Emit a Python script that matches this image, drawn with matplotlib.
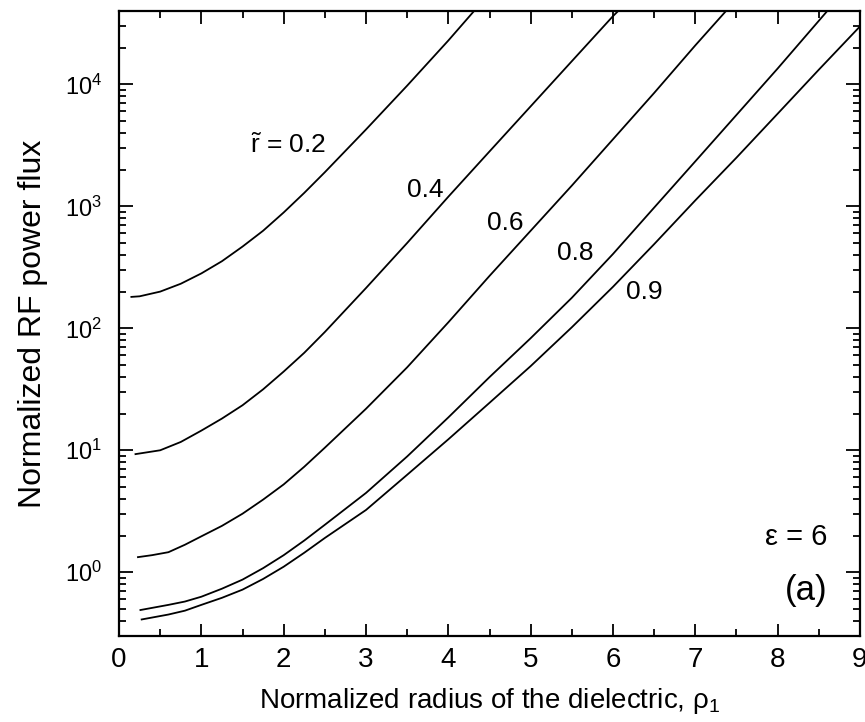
import matplotlib
matplotlib.use("Agg")
import matplotlib.pyplot as plt
from matplotlib.ticker import MultipleLocator, LogLocator, NullFormatter

# ── fonts ────────────────────────────────────────────────────────────────────
plt.rcParams['font.family'] = ['Liberation Sans', 'DejaVu Sans']
plt.rcParams['mathtext.fontset'] = 'custom'
plt.rcParams['mathtext.rm'] = 'Liberation Sans'
plt.rcParams['mathtext.it'] = 'Liberation Sans:italic'
plt.rcParams['mathtext.bf'] = 'Liberation Sans:bold'

# ── data ─────────────────────────────────────────────────────────────────────
x_02 = [0.15, 0.25, 0.5, 0.75, 1.0, 1.25, 1.5, 1.75, 2.0, 2.25, 2.5, 3.0,
        3.5, 4.0, 4.31]
y_02 = [181, 183, 200, 232, 282, 355, 468, 631, 891, 1290, 1905, 4270,
        9770, 22900, 39800]

x_04 = [0.2, 0.5, 0.75, 1.0, 1.25, 1.5, 1.75, 2.0, 2.25, 2.5, 3.0, 3.5,
        4.0, 4.5, 5.0, 5.5, 6.0, 6.06]
y_04 = [9.3, 10.0, 11.7, 14.5, 18.2, 23.4, 31.6, 44.2, 63, 93.3, 214, 501,
        1200, 2820, 6610, 15500, 36300, 39800]

x_06 = [0.23, 0.4, 0.6, 0.8, 1.0, 1.25, 1.5, 1.75, 2.0, 2.25, 2.5, 3.0,
        3.5, 4.0, 4.5, 5.0, 5.5, 6.0, 6.5, 7.0, 7.37]
y_06 = [1.33, 1.38, 1.46, 1.68, 1.97, 2.40, 3.02, 3.94, 5.25, 7.33, 10.5,
        21.9, 47.9, 112, 269, 631, 1480, 3550, 8510, 20900, 39800]

x_08 = [0.26, 0.6, 0.8, 1.0, 1.25, 1.5, 1.75, 2.0, 2.25, 2.5, 3.0, 3.5,
        4.0, 4.5, 5.0, 5.5, 6.0, 6.5, 7.0, 7.5, 8.0, 8.6]
y_08 = [0.49, 0.54, 0.575, 0.63, 0.733, 0.87, 1.08, 1.38, 1.82, 2.45, 4.47,
        8.9, 18.6, 39.8, 83, 178, 407, 977, 2340, 5620, 13500, 39800]

x_09 = [0.275, 0.6, 0.8, 1.0, 1.25, 1.5, 1.75, 2.0, 2.25, 2.5, 3.0, 3.5,
        4.0, 4.5, 5.0, 5.5, 6.0, 6.5, 7.0, 7.5, 8.0, 8.5, 9.0]
y_09 = [0.41, 0.45, 0.484, 0.54, 0.617, 0.72, 0.881, 1.11, 1.445, 1.91,
        3.24, 6.3, 12.3, 24.5, 49, 102, 219, 490, 1120, 2510, 5750, 13200,
        29900]

curves = [(x_02, y_02), (x_04, y_04), (x_06, y_06), (x_08, y_08), (x_09, y_09)]

# curve labels: (text, x, y)
labels = [
    (r"$\tilde{\mathrm{r}}$ = 0.2", 1.59, 3160),
    ("0.4", 3.50, 1350),
    ("0.6", 4.47, 724),
    ("0.8", 5.32, 412),
    ("0.9", 6.16, 200),
]

# ── plot ─────────────────────────────────────────────────────────────────────
fig = plt.figure(figsize=(8.65, 7.22), dpi=100)
ax = fig.add_axes([0.1376, 0.1191, 0.8566, 0.8657])

for xs, ys in curves:
    ax.plot(xs, ys, color='black', lw=1.3)

for txt, tx, ty in labels:
    ax.text(tx, ty, txt, fontsize=19, ha='left', va='center')

ax.text(8.60, 1.94, "ε = 6", fontsize=21, ha='right', va='center')
ax.text(8.61, 0.71, "(a)", fontsize=25, ha='right', va='center')

ax.set_yscale('log')
ax.set_xlim(0, 9)
ax.set_ylim(0.3, 4e4)

ax.xaxis.set_major_locator(MultipleLocator(1))
ax.xaxis.set_minor_locator(MultipleLocator(0.5))
ax.yaxis.set_major_locator(LogLocator(base=10, numticks=10))
ax.yaxis.set_minor_locator(LogLocator(base=10, subs=range(2, 10), numticks=10))
ax.yaxis.set_minor_formatter(NullFormatter())

ax.tick_params(which='both', direction='in', top=True, right=True, width=1.3)
ax.tick_params(axis='x', which='major', length=9, pad=8, labelsize=20)
ax.tick_params(axis='y', which='major', length=10, pad=12, labelsize=17)
ax.tick_params(which='minor', length=5)
for sp in ax.spines.values():
    sp.set_linewidth(1.6)

ax.set_xlabel(r"Normalized radius of the dielectric, ρ$_1$", fontsize=20,
              labelpad=9)
ax.set_ylabel("Normalized RF power flux", fontsize=23, labelpad=12)

fig.savefig("out.png", dpi=100)
